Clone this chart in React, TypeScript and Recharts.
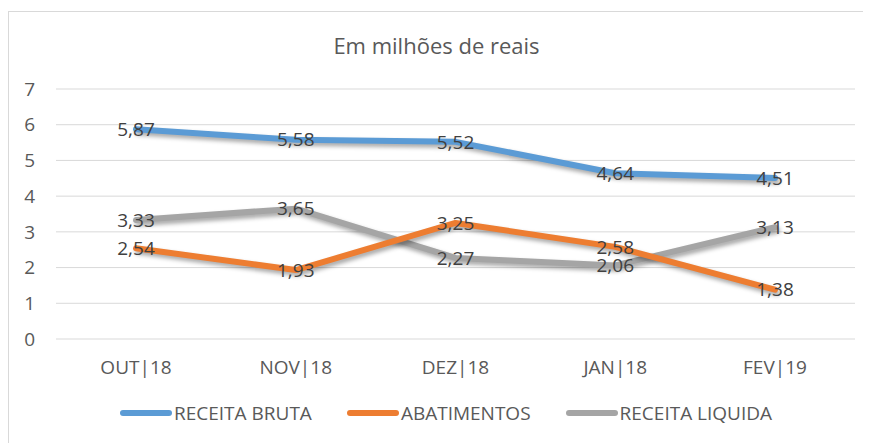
import React from "react";
import { LineChart, Line, XAxis, YAxis, CartesianGrid, LabelList } from "recharts";

const categories = ["OUT|18", "NOV|18", "DEZ|18", "JAN|18", "FEV|19"];
const receitaBruta = [5.87, 5.58, 5.52, 4.64, 4.51];
const abatimentos = [2.54, 1.93, 3.25, 2.58, 1.38];
const receitaLiquida = [3.33, 3.65, 2.27, 2.06, 3.13];
const yTicks = [0, 1, 2, 3, 4, 5, 6, 7];

const series = [
  { key: "bruta", name: "RECEITA BRUTA", color: "#5B9BD5" },
  { key: "abat", name: "ABATIMENTOS", color: "#ED7D31" },
  { key: "liq", name: "RECEITA LIQUIDA", color: "#A5A5A5" },
];

const data = categories.map((c, i) => ({
  cat: c,
  bruta: receitaBruta[i],
  abat: abatimentos[i],
  liq: receitaLiquida[i],
}));

const FONT = "'Open Sans', 'Noto Sans', sans-serif";
const fmt = (v: any) => Number(v).toFixed(2).replace(".", ",");

const drawOrder = ["bruta", "liq", "abat"];

export default function App() {
  return (
    <div style={{ paddingTop: 3 }}>
      <style>{`.recharts-line-curve { filter: drop-shadow(2px 3px 2px rgba(0,0,0,0.35)); }`}</style>
      <div
        style={{
          position: "relative",
          width: 863,
          height: 432,
          borderTop: "1px solid #d9d9d9",
          borderLeft: "1px solid #d9d9d9",
          boxSizing: "border-box",
          fontFamily: FONT,
        }}
      >
        <div
          style={{
            position: "absolute",
            top: 18,
            left: 0,
            width: 855,
            textAlign: "center",
            fontSize: 22,
            lineHeight: "30px",
            color: "#595959",
          }}
        >
          Em milhões de reais
        </div>
        <div style={{ position: "absolute", top: -4, left: -1 }}>
          <LineChart
            width={863}
            height={435}
            data={data}
            margin={{ top: 81, right: 16, left: 8, bottom: 74 }}
          >
            <CartesianGrid horizontal={true} vertical={false} stroke="#d9d9d9" strokeWidth={1} />
            <XAxis
              dataKey="cat"
              axisLine={false}
              tickLine={false}
              tickSize={0}
              tickMargin={22}
              height={30}
              interval={0}
              padding={{ left: 80, right: 80 }}
              tick={{ fill: "#595959", fontSize: 19, fontFamily: FONT }}
            />
            <YAxis
              domain={[0, 7]}
              ticks={yTicks}
              axisLine={false}
              tickLine={false}
              tickSize={0}
              tickMargin={21}
              width={40}
              interval={0}
              tick={{ fill: "#595959", fontSize: 19, fontFamily: FONT }}
            />
            {drawOrder.map((k) => {
              const s = series.find((x) => x.key === k)!;
              return (
                <Line
                  key={s.key}
                  type="linear"
                  dataKey={s.key}
                  name={s.name}
                  stroke={s.color}
                  strokeWidth={6}
                  strokeLinecap="round"
                  strokeLinejoin="round"
                  dot={false}
                  activeDot={false}
                  isAnimationActive={false}
                >
                  <LabelList
                    dataKey={s.key}
                    position="center"
                    formatter={fmt}
                    style={{ fill: "#404040", fontSize: 19, fontFamily: FONT }}
                  />
                </Line>
              );
            })}
          </LineChart>
        </div>
        <div
          style={{
            position: "absolute",
            top: 388,
            left: 0,
            display: "flex",
            alignItems: "center",
            fontSize: 19,
            lineHeight: "26px",
            color: "#595959",
          }}
        >
          {series.map((s, i) => (
            <div
              key={s.key}
              style={{
                display: "flex",
                alignItems: "center",
                marginLeft: i === 0 ? 111 : 35,
              }}
            >
              <div
                style={{
                  width: 52,
                  height: 6,
                  borderRadius: 3,
                  background: s.color,
                  marginRight: 2,
                }}
              />
              <span>{s.name}</span>
            </div>
          ))}
        </div>
      </div>
    </div>
  );
}
